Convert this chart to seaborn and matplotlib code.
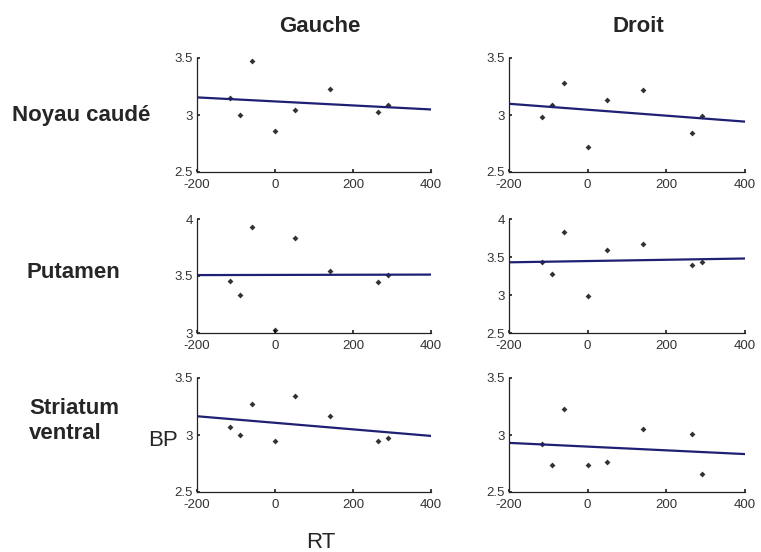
import matplotlib
matplotlib.use("Agg")
import matplotlib.pyplot as plt
from matplotlib.ticker import FormatStrFormatter
import seaborn as sns
import pandas as pd

# RT (x) shared by all panels
rt = [-115, -90, -60, 0, 50, 140, 265, 290]

# BP values
bp_caude_gauche = [3.145, 2.996, 3.477, 2.864, 3.043, 3.230, 3.030, 3.084]
bp_caude_droit = [2.984, 3.084, 3.277, 2.720, 3.130, 3.220, 2.840, 2.990]
bp_putamen_gauche = [3.455, 3.337, 3.927, 3.023, 3.836, 3.545, 3.443, 3.513]
bp_putamen_droit = [3.437, 3.270, 3.824, 2.988, 3.591, 3.670, 3.397, 3.437]
bp_striatum_gauche = [3.072, 3.000, 3.273, 2.945, 3.345, 3.164, 2.945, 2.974]
bp_striatum_droit = [2.925, 2.736, 3.227, 2.736, 2.759, 3.055, 3.011, 2.658]

regions = ["Noyau caudé", "Putamen", "Striatum\nventral"]
sides = ["Gauche", "Droit"]
panel_values = [
    [bp_caude_gauche, bp_caude_droit],
    [bp_putamen_gauche, bp_putamen_droit],
    [bp_striatum_gauche, bp_striatum_droit],
]
y_ranges = [
    [(2.5, 3.5), (2.5, 3.5)],
    [(3.0, 4.0), (2.5, 4.0)],
    [(2.5, 3.5), (2.5, 3.5)],
]
x_ticks = [-200, 0, 200, 400]


def main():
    sns.set_theme(style="ticks")
    plt.rcParams["font.family"] = ["Liberation Sans", "DejaVu Sans"]
    plt.rcParams.update({
        "axes.unicode_minus": False,
        "xtick.direction": "in", "ytick.direction": "in",
        "xtick.major.size": 2.5, "ytick.major.size": 2.5,
        "xtick.major.pad": 5, "ytick.major.pad": 3,
        "xtick.labelsize": 9.5, "ytick.labelsize": 9.5,
        "xtick.labelcolor": "#333333", "ytick.labelcolor": "#333333",
        "axes.edgecolor": "#222222", "axes.linewidth": 0.9,
    })

    W, H = 761, 552
    fig = plt.figure(figsize=(W / 100, H / 100), dpi=100)

    col_left = [197, 509]
    col_width = [234, 236]
    row_bottom = [172, 333, 492]
    row_height = 114

    line_color = "#1f1f73"
    for r in range(3):
        for c in range(2):
            ax = fig.add_axes([col_left[c] / W, 1 - row_bottom[r] / H,
                               col_width[c] / W, row_height / H])
            df = pd.DataFrame({"RT": rt, "BP": panel_values[r][c]})
            ax.set_xlim(-200, 400)
            sns.regplot(data=df, x="RT", y="BP", ax=ax, ci=None, truncate=False,
                        marker="D",
                        scatter_kws={"s": 9, "color": "black", "linewidths": 0},
                        line_kws={"color": line_color, "lw": 1.6})
            ax.set_xlim(-200, 400)
            lo, hi = y_ranges[r][c]
            ax.set_ylim(lo, hi)
            yt = [lo + 0.5 * k for k in range(int(round((hi - lo) / 0.5)) + 1)]
            ax.set_yticks(yt)
            ax.set_xticks(x_ticks)
            ax.yaxis.set_major_formatter(FormatStrFormatter("%g"))
            ax.set_xlabel("")
            ax.set_ylabel("")
            sns.despine(ax=ax)

    # column titles
    fig.text(320 / W, 1 - 27 / H, sides[0], ha="center", va="center",
             fontsize=16, fontweight="bold")
    fig.text(638 / W, 1 - 27 / H, sides[1], ha="center", va="center",
             fontsize=16, fontweight="bold")

    # row labels
    row_label_pos = [(12, 115), (27, 272), (29, 421)]
    for label, (px, py) in zip(regions, row_label_pos):
        fig.text(px / W, 1 - py / H, label, ha="left", va="center",
                 fontsize=16, fontweight="bold", linespacing=1.3)

    fig.text(163 / W, 1 - 441 / H, "BP", ha="center", va="center", fontsize=16)
    fig.text(321 / W, 1 - 542 / H, "RT", ha="center", va="center", fontsize=16)

    fig.savefig("out.png", dpi=100, facecolor="white")
    plt.close(fig)


if __name__ == "__main__":
    main()
